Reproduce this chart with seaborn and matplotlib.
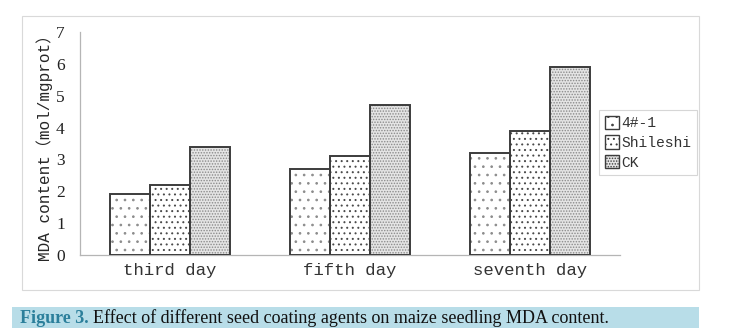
import matplotlib
matplotlib.use("Agg")
import matplotlib.pyplot as plt
import seaborn as sns
import pandas as pd
from matplotlib.patches import Rectangle, Patch

days = ["third day", "fifth day", "seventh day"]
treatments = ["4#-1", "Shileshi", "CK"]
v_41 = [1.9, 2.7, 3.2]
v_shileshi = [2.2, 3.1, 3.9]
v_ck = [3.4, 4.7, 5.9]
y_ticks = [0, 1, 2, 3, 4, 5, 6, 7]
ylabel = "MDA content（mol/mgprot）"
caption_head = "Figure 3."
caption_rest = "Effect of different seed coating agents on maize seedling MDA content."

rows = []
for d, a, b, c in zip(days, v_41, v_shileshi, v_ck):
    rows += [(d, treatments[0], a), (d, treatments[1], b), (d, treatments[2], c)]
df = pd.DataFrame(rows, columns=["day", "treatment", "value"])

sns.set_theme(style="white")
FONT = ["Liberation Mono", "Noto Sans CJK SC", "DejaVu Sans"]
plt.rcParams["font.family"] = FONT
plt.rcParams["hatch.linewidth"] = 0.7

W, H = 745, 328
fig = plt.figure(figsize=(W / 100, H / 100), dpi=100)
fig.patch.set_facecolor("white")

# outer frame
fig.patches.append(Rectangle((22 / W, 1 - 290 / H), 677 / W, 274 / H, transform=fig.transFigure,
                             fill=False, edgecolor="#d9d9d9", linewidth=0.8))
# caption band
fig.patches.append(Rectangle((12 / W, 0), 687 / W, 21 / H, transform=fig.transFigure,
                             facecolor="#b8dde8", edgecolor="none"))

ax = fig.add_axes([80 / W, 1 - 255 / H, 540 / W, 223 / H])
sns.barplot(data=df, x="day", y="value", hue="treatment", order=days, hue_order=treatments,
            width=0.667, ax=ax, legend=False, errorbar=None, gap=0)

hatches = ["..", "...", "......"]
hatch_cols = ["#8c8c8c", "#4a4a4a", "#8a8a8a"]
face_cols = ["white", "white", "#e4e4e4"]
bars = ax.patches[:]
for i, p in enumerate(bars):
    h = i // len(days)
    p.set_facecolor(face_cols[h])
    p.set_hatch(hatches[h])
    p.set_edgecolor(hatch_cols[h])
    p.set_linewidth(0)
    ax.add_patch(Rectangle(p.get_xy(), p.get_width(), p.get_height(), fill=False,
                           edgecolor="#3c3c3c", linewidth=1.4, zorder=3))

ax.set_xlim(-0.5, 2.5)
ax.set_ylim(0, 7)
ax.set_yticks(y_ticks)
ax.set_yticklabels([str(t) for t in y_ticks], fontsize=12.5, family=["Liberation Serif"])
ax.set_xticks(range(len(days)))
ax.set_xticklabels(days, fontsize=12.5)
ax.set_xlabel("")
ax.set_ylabel(ylabel, fontsize=11.5)
ax.yaxis.set_label_coords(-0.05, 0.5)

for s in ["top", "right"]:
    ax.spines[s].set_visible(False)
for s in ["left", "bottom"]:
    ax.spines[s].set_color("#b5b5b5")
    ax.spines[s].set_linewidth(0.9)
ax.tick_params(axis="y", which="major", length=3, color="#b5b5b5", pad=8, colors="#222222")
ax.tick_params(axis="x", which="major", length=0, pad=6, colors="#333333")
ax.set_xticks([0.5, 1.5], minor=True)
ax.tick_params(axis="x", which="minor", length=4, direction="in", color="#c8c8c8")

handles = [Patch(facecolor=face_cols[i], edgecolor="#3c3c3c", hatch=hatches[i], linewidth=1.0, label=t)
           for i, t in enumerate(treatments)]
leg = fig.legend(handles=handles, loc="upper left", bbox_to_anchor=(599 / W, 1 - 110 / H),
                 frameon=True, fancybox=False, fontsize=10.5, handlelength=1.0, handleheight=1.0,
                 handletextpad=0.15, borderpad=0.4, labelspacing=0.35, borderaxespad=0)
leg.get_frame().set_edgecolor("#cccccc")
leg.get_frame().set_linewidth(0.8)
for t in leg.get_texts():
    t.set_color("#333333")

t1 = fig.text(20 / W, 5 / H, caption_head, fontsize=13, fontweight="bold", color="#2b7f9b",
              family=["Liberation Serif"], va="baseline")
fig.canvas.draw()
bb = t1.get_window_extent(renderer=fig.canvas.get_renderer())
fig.text(bb.x1 / W + 4 / W, 5 / H, caption_rest, fontsize=13, color="#111111",
         family=["Liberation Serif"], va="baseline")

fig.savefig("out.png", dpi=100)
